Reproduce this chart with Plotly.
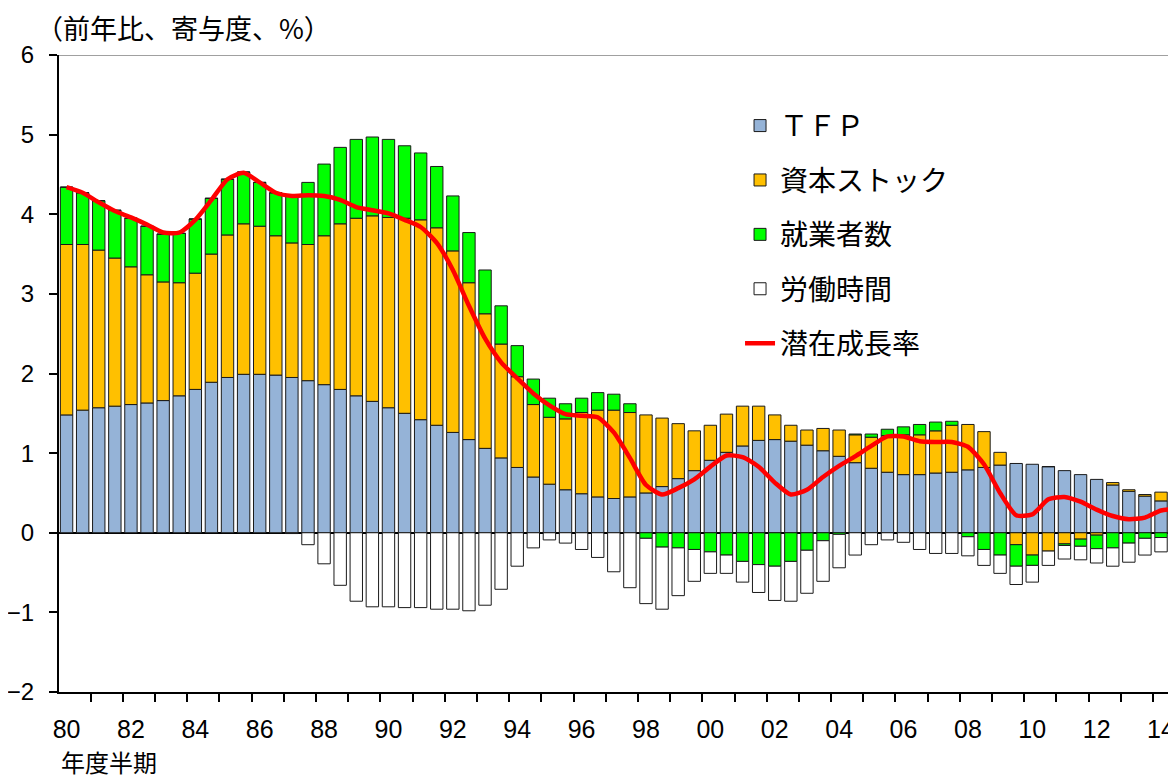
import plotly.graph_objects as go

# Half-year periods 1980H1 .. 2014H2
years = list(range(1980, 2015))
periods = [f"{y}{h}" for y in years for h in ("上", "下")]

tfp = [1.48, 1.54, 1.57, 1.59, 1.61, 1.63, 1.66, 1.72, 1.80, 1.89,
       1.95, 1.99, 1.99, 1.98, 1.95, 1.91, 1.86, 1.80, 1.72, 1.65,
       1.57, 1.50, 1.42, 1.35, 1.26, 1.17, 1.06, 0.94, 0.82, 0.70,
       0.61, 0.54, 0.49, 0.45, 0.43, 0.45, 0.50, 0.58, 0.68, 0.78,
       0.91, 1.01, 1.09, 1.16, 1.17, 1.15, 1.10, 1.03, 0.96, 0.88,
       0.81, 0.76, 0.73, 0.73, 0.75, 0.76, 0.79, 0.82, 0.85, 0.87,
       0.86, 0.83, 0.78, 0.73, 0.67, 0.60, 0.52, 0.46, 0.40, 0.39]

capital = [2.14, 2.08, 1.98, 1.86, 1.73, 1.61, 1.49, 1.42, 1.46, 1.61,
           1.79, 1.89, 1.86, 1.75, 1.69, 1.71, 1.87, 2.08, 2.23, 2.33,
           2.39, 2.45, 2.51, 2.48, 2.28, 1.97, 1.69, 1.43, 1.14, 0.91,
           0.84, 0.89, 1.02, 1.09, 1.11, 1.06, 0.98, 0.86, 0.69, 0.50,
           0.44, 0.48, 0.50, 0.43, 0.31, 0.20, 0.19, 0.28, 0.33, 0.35,
           0.39, 0.46, 0.50, 0.50, 0.53, 0.59, 0.57, 0.45, 0.16, -0.15,
           -0.28, -0.23, -0.14, -0.08, -0.03, 0.03, 0.02, 0.02, 0.11, 0.13]

employment = [0.72, 0.65, 0.62, 0.60, 0.61, 0.61, 0.60, 0.62, 0.68, 0.70,
              0.70, 0.65, 0.55, 0.54, 0.59, 0.78, 0.90, 0.96, 0.99, 0.99,
              0.98, 0.91, 0.84, 0.77, 0.69, 0.63, 0.55, 0.48, 0.39, 0.32,
              0.24, 0.19, 0.18, 0.22, 0.20, 0.11, -0.07, -0.18, -0.19, -0.21,
              -0.24, -0.28, -0.36, -0.40, -0.42, -0.36, -0.22, -0.10, -0.02, 0.01,
              0.04, 0.08, 0.10, 0.13, 0.11, 0.05, -0.05, -0.21, -0.28, -0.27,
              -0.13, 0.00, -0.02, -0.09, -0.17, -0.19, -0.13, -0.07, -0.06, -0.06]

hours = [0.00, 0.00, 0.00, 0.00, 0.00, 0.00, 0.00, 0.00, 0.00, 0.00,
         0.00, 0.00, 0.00, 0.00, -0.01, -0.15, -0.39, -0.66, -0.86, -0.93,
         -0.93, -0.94, -0.94, -0.96, -0.96, -0.98, -0.91, -0.71, -0.42, -0.19,
         -0.09, -0.13, -0.21, -0.31, -0.49, -0.69, -0.82, -0.78, -0.60, -0.40,
         -0.27, -0.23, -0.26, -0.35, -0.43, -0.50, -0.54, -0.51, -0.42, -0.28,
         -0.15, -0.09, -0.12, -0.21, -0.26, -0.26, -0.24, -0.20, -0.23, -0.23,
         -0.21, -0.18, -0.17, -0.17, -0.18, -0.23, -0.24, -0.21, -0.18, -0.15]

potential = [4.34, 4.27, 4.15, 4.04, 3.96, 3.87, 3.77, 3.77, 3.93, 4.18,
             4.44, 4.52, 4.40, 4.27, 4.23, 4.24, 4.23, 4.18, 4.09, 4.05,
             4.01, 3.93, 3.84, 3.64, 3.30, 2.85, 2.44, 2.14, 1.94, 1.75,
             1.60, 1.49, 1.47, 1.45, 1.26, 0.94, 0.60, 0.48, 0.56, 0.67,
             0.83, 0.97, 0.95, 0.83, 0.63, 0.48, 0.54, 0.70, 0.84, 0.96,
             1.09, 1.21, 1.21, 1.15, 1.14, 1.14, 1.08, 0.86, 0.50, 0.22,
             0.23, 0.42, 0.45, 0.39, 0.29, 0.21, 0.17, 0.19, 0.28, 0.30]

tick_vals = periods[0::2]
tick_text = [f"{y % 100:02d}" if (y - 1980) % 2 == 0 else "" for y in years]

JP = "Noto Sans CJK JP"
NUM = "Liberation Sans"

fig = go.Figure()
bar_specs = [
    ("ＴＦＰ", tfp, "#95B3D7"),
    ("資本ストック", capital, "#FFC000"),
    ("就業者数", employment, "#00FF00"),
    ("労働時間", hours, "#FFFFFF"),
]
for name, vals, color in bar_specs:
    fig.add_trace(go.Bar(
        x=periods, y=vals, name=name, legendgroup=name,
        marker=dict(color=color, line=dict(color="#1a1a1a", width=1)),
    ))
fig.add_trace(go.Scatter(
    x=periods, y=potential, name="潜在成長率", legendgroup="line",
    mode="lines", line=dict(color="#FF0000", width=4.5, shape="spline", smoothing=0.6),
))

fig.update_layout(
    width=1168, height=770,
    margin=dict(l=51, r=0, t=47, b=86, autoexpand=False),
    barmode="relative", bargap=0.23,
    plot_bgcolor="white", paper_bgcolor="white",
    font=dict(family=JP, size=25, color="black"),
    legend=dict(
        x=0.6097, y=0.928, xanchor="left", yanchor="top",
        traceorder="grouped", tracegroupgap=15,
        font=dict(family=JP, size=28, color="black"),
        bgcolor="rgba(0,0,0,0)", itemwidth=30,
    ),
    xaxis=dict(
        type="category", range=[-0.47, 68.93], automargin=False,
        tickmode="array", tickvals=tick_vals, ticktext=tick_text,
        tickson="boundaries", ticks="outside", ticklen=8, tickwidth=1.5,
        tickcolor="black", showline=True, linecolor="black", linewidth=2,
        showgrid=False, tickangle=0,
        tickfont=dict(family=NUM, size=25, color="black"),
        ticklabelstandoff=14,
    ),
    yaxis=dict(
        range=[-2, 6], dtick=1, automargin=False,
        ticks="outside", ticklen=8, tickwidth=1.5,
        tickcolor="black", showline=True, linecolor="black", linewidth=2,
        showgrid=False, zeroline=True, zerolinecolor="black", zerolinewidth=1.5,
        tickfont=dict(family=NUM, size=24, color="black"),
        ticklabelstandoff=10,
    ),
    shapes=[dict(type="line", xref="paper", yref="y", x0=0, x1=1, y0=6, y1=6,
                 line=dict(color="#808080", width=1.5))],
    annotations=[
        dict(text="（前年比、寄与度、%）", xref="paper", yref="paper",
             x=-0.022, y=1.0424, xanchor="left", yanchor="middle",
             showarrow=False, font=dict(family=JP, size=27, color="black")),
        dict(text="年度半期", xref="paper", yref="paper",
             x=0.0, y=-0.1085, xanchor="left", yanchor="middle",
             showarrow=False, font=dict(family=JP, size=24, color="black")),
    ],
)

fig.write_html("out.html")
